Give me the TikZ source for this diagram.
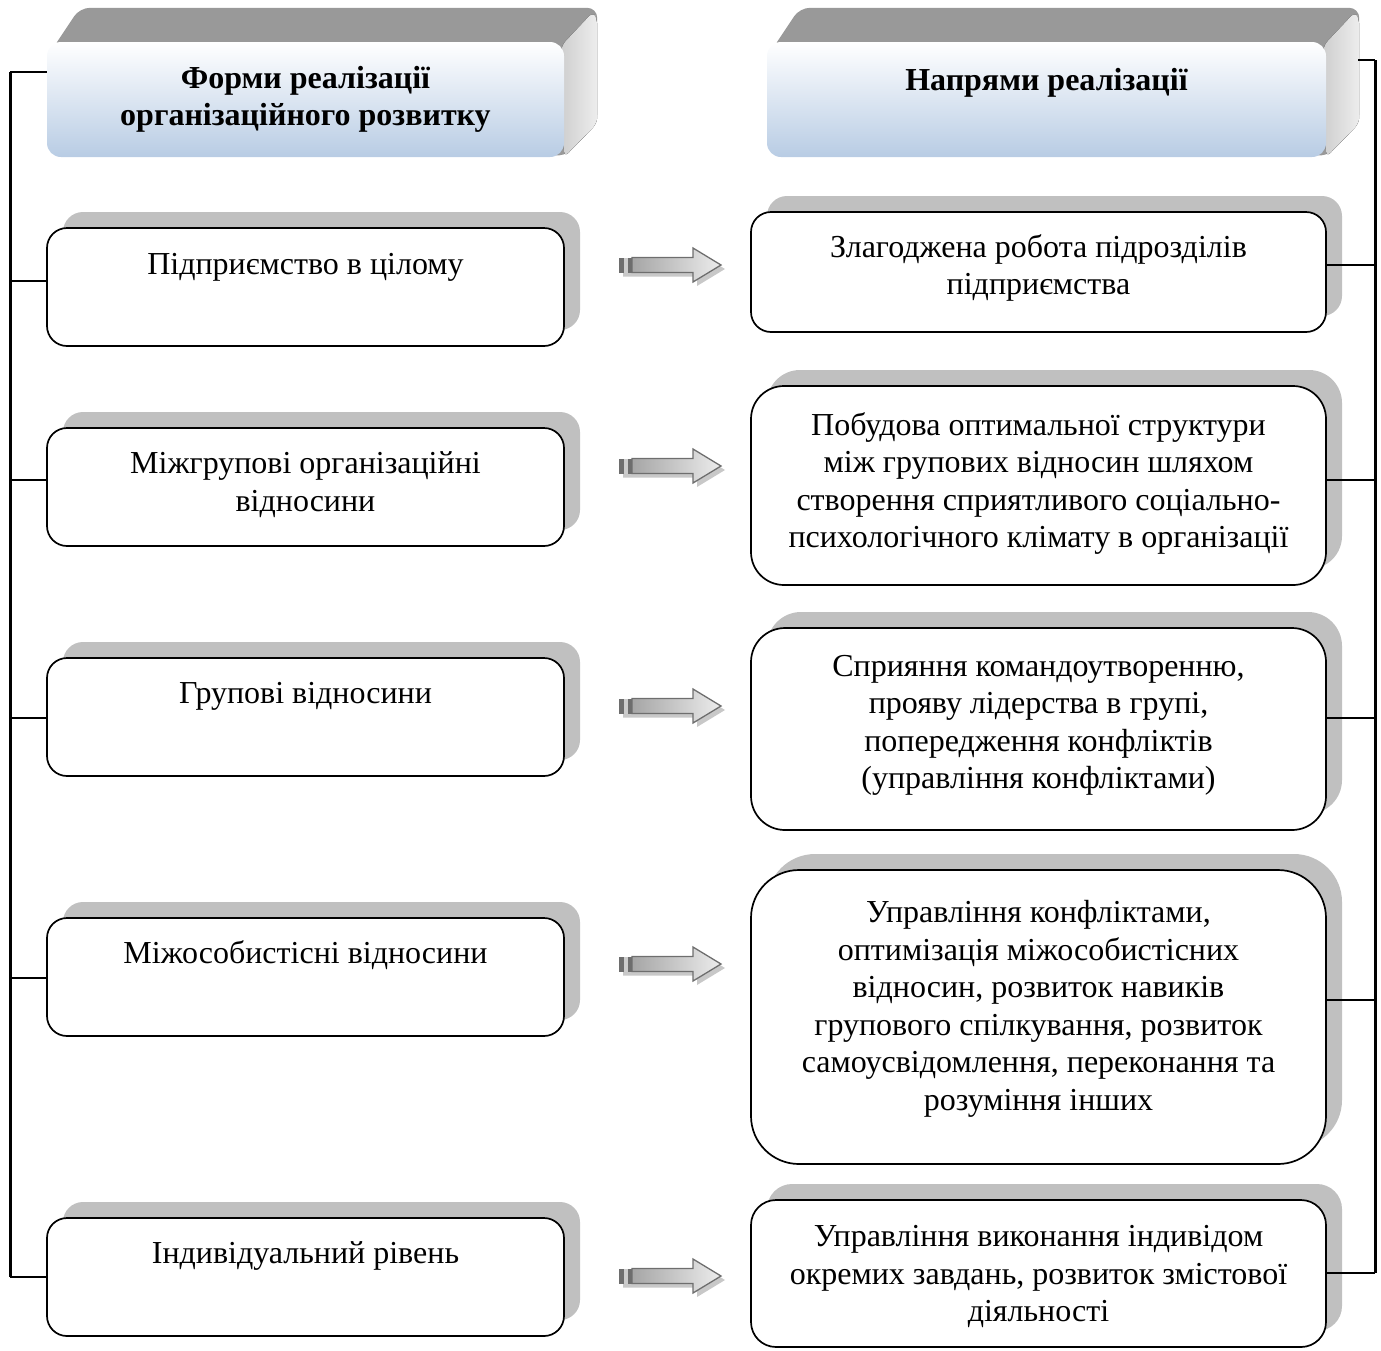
\documentclass[tikz,border=0pt]{standalone}
\usepackage{fontspec}
\setmainfont{Liberation Serif}
\usetikzlibrary{calc,shadows,backgrounds}

\definecolor{shadowgray}{HTML}{C0C0C0}
\definecolor{topface}{HTML}{999999}
\definecolor{hdrblue}{HTML}{B8CCE4}
\definecolor{arrowline}{HTML}{6E6E6E}
\definecolor{arrowshadow}{HTML}{C8C8C8}

\tikzset{
  every node/.style={font=\fontsize{32pt}{37.5pt}\selectfont},
  boxshadow/.style={general shadow={shadow xshift=16pt, shadow yshift=16pt, fill=shadowgray, draw=none}},
  lbox/.style={draw, line width=1.7pt, fill=white, rounded corners=20pt,
    minimum width=517pt, minimum height=118pt, inner sep=0pt, boxshadow},
  rbox/.style={draw, line width=1.7pt, fill=white,
    minimum width=575pt, inner sep=0pt, boxshadow},
  boxtext/.style={inner sep=0pt, align=center},
  hdrface/.style={minimum width=#1, minimum height=115pt, inner sep=0pt,
    rounded corners=14pt, top color=white, bottom color=hdrblue},
  toptext/.style={anchor=north, inner sep=0pt, align=center},
  bus/.style={line width=3pt},
  branch/.style={line width=2pt},
  pics/blockarrow/.style={code={
    \fill[arrowshadow, shift={(4,4)}] (0,-7.5) -- (74,-7.5) -- (74,-17) -- (102,0)
      -- (74,17) -- (74,7.5) -- (0,7.5) -- cycle;
    \draw[arrowline, line width=1.3pt, left color=gray!70, right color=gray!15]
      (13,-7.5) -- (74,-7.5) -- (74,-17) -- (102,0) -- (74,17) -- (74,7.5)
      -- (13,7.5) -- cycle;
    \fill[arrowline] (0,-7.5) rectangle (5,7.5);
    \fill[gray!40] (5,-7.5) rectangle (9,7.5);
    \fill[arrowline] (9,-7.5) rectangle (12.5,7.5);
  }}
}

\begin{document}
\begin{tikzpicture}[x=1pt, y=-1pt]
\useasboundingbox (0,0) rectangle (1381,1350);

% ---- header blocks ----
\node[hdrface=517pt] (lh) at (305.5,99.5) {};
\node[hdrface=559pt] (rh) at (1046.5,99.5) {};
\begin{scope}[on background layer]
  \foreach \h in {lh,rh} {
    \fill[topface, rounded corners=10pt]
      ($(\h.north west)+(5,8)$) -- ($(\h.north west)+(33,-34)$)
      -- ($(\h.north east)+(33,-34)$) -- ($(\h.south east)+(33,-34)$)
      -- (\h.south east) -- cycle;
    \fill[left color=gray!38, right color=gray!14, rounded corners=6pt]
      ($(\h.north east)+(-3,4)$) -- ($(\h.north east)+(29,-30)$)
      -- ($(\h.north east)+(33,-22)$) -- ($(\h.south east)+(33,-34)$)
      -- ($(\h.south east)+(0,0)$) -- cycle;
  }
\end{scope}
\node[toptext, font=\fontsize{32pt}{37.5pt}\selectfont\bfseries] (lht) at ($(lh.north)+(0,20)$)
  {\strut Форми реалізації\\ організаційного розвитку};
\node[toptext, font=\fontsize{32pt}{37.5pt}\selectfont\bfseries] (rht) at ($(rh.north)+(0,22)$)
  {\strut Напрями реалізації};

% ---- left column ----
\node[lbox] (l1) at (305.5,287) {};
\node[lbox] (l2) at (305.5,487) {};
\node[lbox] (l3) at (305.5,717) {};
\node[lbox] (l4) at (305.5,977) {};
\node[lbox] (l5) at (305.5,1277) {};
\node[toptext] (l1t) at ($(l1.north)+(0,21)$) {\strut Підприємство в цілому};
\node[toptext] (l2t) at ($(l2.north)+(0,20)$) {\strut Міжгрупові організаційні\\ відносини};
\node[toptext] (l3t) at ($(l3.north)+(0,20)$) {\strut Групові відносини};
\node[toptext] (l4t) at ($(l4.north)+(0,20)$) {\strut Міжособистісні відносини};
\node[toptext] (l5t) at ($(l5.north)+(0,20)$) {\strut Індивідуальний рівень};

% ---- right column ----
\node[rbox, minimum height=120pt, rounded corners=20pt] (r1) at (1038.5,272) {};
\node[rbox, minimum height=199pt, rounded corners=33pt] (r2) at (1038.5,485.5) {};
\node[rbox, minimum height=202pt, rounded corners=34pt] (r3) at (1038.5,729) {};
\node[rbox, minimum height=294pt, rounded corners=48pt] (r4) at (1038.5,1017) {};
\node[rbox, minimum height=147pt, rounded corners=25pt] (r5) at (1038.5,1273.5) {};
\node[boxtext] (r1t) at (1038.5,268)
  {Злагоджена робота підрозділів\\ підприємства};
\node[boxtext] (r2t) at (1038.5,483.5)
  {Побудова оптимальної структури\\ між групових відносин шляхом\\ створення сприятливого соціально-\\ психологічного клімату в організації};
\node[boxtext] (r3t) at (1038.5,725.5)
  {Сприяння командоутворенню,\\ прояву лідерства в групі,\\ попередження конфліктів\\ (управління конфліктами)};
\node[boxtext] (r4t) at (1038.5,1009)
  {Управління конфліктами,\\ оптимізація міжособистісних\\ відносин, розвиток навиків\\ групового спілкування, розвиток\\ самоусвідомлення, переконання та\\ розуміння інших};
\node[boxtext] (r5t) at (1038.5,1276.5)
  {Управління виконання індивідом\\ окремих завдань, розвиток змістової\\ діяльності};

% ---- block arrows between the columns ----
\pic at (619,265) {blockarrow};
\pic at (619,466) {blockarrow};
\pic at (619,706) {blockarrow};
\pic at (619,964) {blockarrow};
\pic at (619,1276) {blockarrow};

% ---- left bus ----
\coordinate (ltop) at (10,72);
\coordinate (lbot) at (10,1277);
\draw[bus] (ltop) -- (lbot);
\draw[branch] (ltop) -- (lh.west |- ltop);
\foreach \b/\yy in {l1/281, l2/480, l3/718, l4/978, l5/1277}
  \draw[branch] (10,\yy) -- (\b.west |- 0,\yy);

% ---- right bus ----
\coordinate (rtop) at (1375,60);
\coordinate (rbot) at (1375,1273);
\coordinate (rhside) at ($(rh.east |- rtop)+(32,0)$);
\draw[bus] (rtop) -- (rbot);
\draw[branch] (rtop) -- (rhside);
\foreach \b/\yy in {r1/265, r2/480, r3/718, r4/1000, r5/1273}
  \draw[branch] (1375,\yy) -- (\b.east |- 0,\yy);

\end{tikzpicture}
\end{document}
